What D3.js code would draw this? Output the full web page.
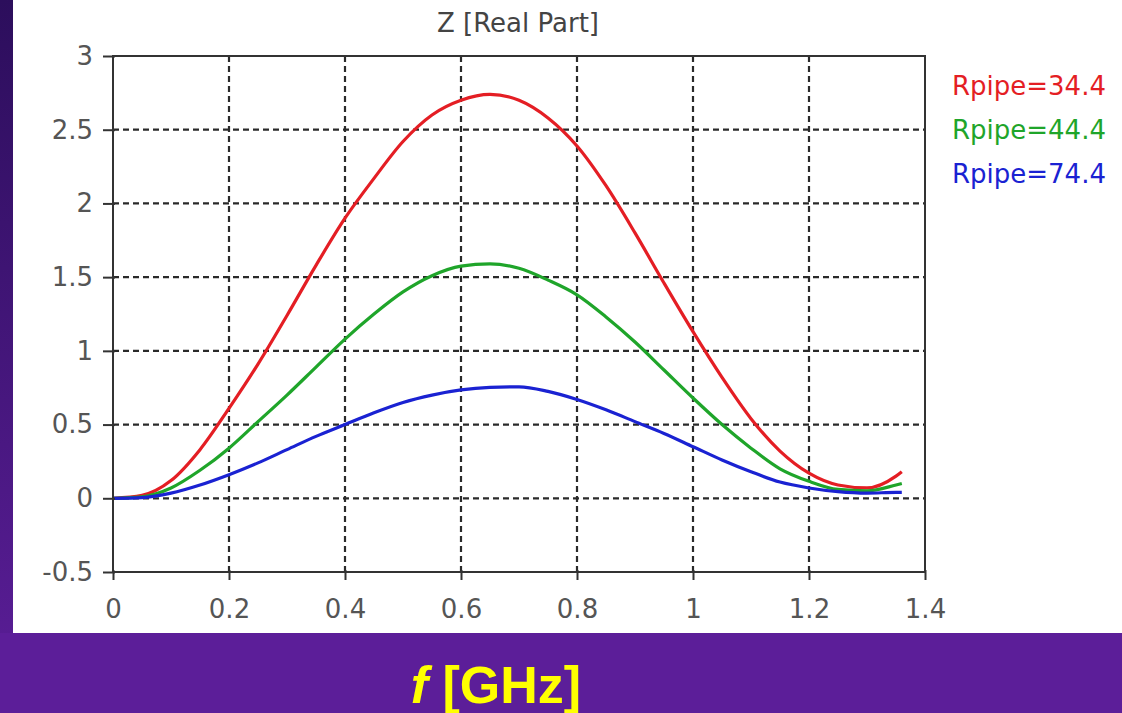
<!DOCTYPE html>
<html>
<head>
<meta charset="utf-8">
<script src="https://cdn.jsdelivr.net/npm/d3@7"></script>
<style>
  body { margin: 0; background: #fff; }
  svg { display: block; }
</style>
</head>
<body>
<svg id="chart" width="1122" height="713"></svg>
<script>
// frequency samples (GHz)
var freq = [0, 0.05, 0.1, 0.15, 0.2, 0.25, 0.3, 0.35, 0.4, 0.45, 0.5, 0.55, 0.6, 0.65, 0.7,
  0.75, 0.8, 0.85, 0.9, 0.95, 1.0, 1.05, 1.1, 1.15, 1.2, 1.25, 1.3, 1.35, 1.36];

var zRed = [0, 0.02, 0.12, 0.33, 0.61, 0.91, 1.24, 1.58, 1.9, 2.17, 2.42, 2.6, 2.7, 2.74, 2.7,
  2.58, 2.39, 2.12, 1.8, 1.46, 1.13, 0.82, 0.54, 0.32, 0.17, 0.09, 0.07, 0.15, 0.18];
var zGreen = [0, 0.01, 0.07, 0.19, 0.34, 0.52, 0.7, 0.89, 1.08, 1.25, 1.4, 1.51, 1.575, 1.59, 1.56,
  1.48, 1.38, 1.23, 1.06, 0.87, 0.68, 0.5, 0.34, 0.2, 0.115, 0.06, 0.05, 0.09, 0.1];
var zBlue = [0, 0.005, 0.035, 0.09, 0.16, 0.24, 0.33, 0.42, 0.5, 0.58, 0.65, 0.7, 0.735, 0.752, 0.756,
  0.725, 0.67, 0.6, 0.52, 0.44, 0.35, 0.26, 0.18, 0.11, 0.07, 0.045, 0.035, 0.04, 0.04];

var seriesNames = ["Rpipe=34.4", "Rpipe=44.4", "Rpipe=74.4"];
var seriesColors = ["#e41e24", "#1fa52a", "#1a22d2"];
var xTicks = [0, 0.2, 0.4, 0.6, 0.8, 1, 1.2, 1.4];
var yTicks = [-0.5, 0, 0.5, 1, 1.5, 2, 2.5, 3];

var svg = d3.select("#chart");

// purple slide background
var defs = svg.append("defs");
var grad = defs.append("linearGradient").attr("id", "side").attr("x1", 0).attr("y1", 0).attr("x2", 0).attr("y2", 1);
grad.append("stop").attr("offset", "0%").attr("stop-color", "#2c0e5c");
grad.append("stop").attr("offset", "100%").attr("stop-color", "#5c1e99");

svg.append("rect").attr("x", 0).attr("y", 0).attr("width", 13).attr("height", 713).attr("fill", "url(#side)");
svg.append("rect").attr("x", 0).attr("y", 633).attr("width", 1122).attr("height", 80).attr("fill", "#5c1e99");

var x = d3.scaleLinear().domain([0, 1.4]).range([113, 925]);
var y = d3.scaleLinear().domain([-0.5, 3]).range([572, 56]);

var g = svg.append("g");

// grid
g.selectAll(".vgrid")
  .data(xTicks.filter(function (d) { return d > 0 && d < 1.4 }))
  .enter().append("line")
  .attr("x1", function (d) { return x(d) }).attr("x2", function (d) { return x(d) })
  .attr("y1", y(3)).attr("y2", y(-0.5))
  .attr("stroke", "#2a2a2a").attr("stroke-width", 2.2).attr("stroke-dasharray", "6,4");

g.selectAll(".hgrid")
  .data(yTicks.filter(function (d) { return d > -0.5 && d < 3 }))
  .enter().append("line")
  .attr("x1", x(0)).attr("x2", x(1.4))
  .attr("y1", function (d) { return y(d) }).attr("y2", function (d) { return y(d) })
  .attr("stroke", "#2a2a2a").attr("stroke-width", 2.2).attr("stroke-dasharray", "6,4");

// curves
var allSeries = [zRed, zGreen, zBlue];
var line = d3.line()
  .x(function (d, i) { return x(freq[i]) })
  .y(function (d) { return y(d) })
  .curve(d3.curveMonotoneX);

g.selectAll(".curve")
  .data(allSeries)
  .enter().append("path")
  .attr("d", line)
  .attr("fill", "none")
  .attr("stroke", function (d, i) { return seriesColors[i] })
  .attr("stroke-width", 3.2)
  .attr("stroke-linejoin", "round");

// frame
g.append("rect")
  .attr("x", x(0)).attr("y", y(3))
  .attr("width", x(1.4) - x(0)).attr("height", y(-0.5) - y(3))
  .attr("fill", "none").attr("stroke", "#333").attr("stroke-width", 2);

// axes
var fmt = function (d) { return String(d) };
var xAxis = d3.axisBottom(x).tickValues(xTicks).tickSize(8).tickPadding(20).tickFormat(fmt);
var yAxis = d3.axisLeft(y).tickValues(yTicks).tickSize(10).tickPadding(10).tickFormat(fmt);

var ax = svg.append("g").attr("transform", "translate(0," + y(-0.5) + ")").call(xAxis);
var ay = svg.append("g").attr("transform", "translate(" + x(0) + ",0)").call(yAxis);

ax.selectAll(".tick line").attr("y1", -2);
ay.selectAll(".tick line").attr("x1", 2);

[ax, ay].forEach(function (a) {
  a.select(".domain").remove();
  a.selectAll(".tick line").attr("stroke", "#333").attr("stroke-width", 2);
  a.selectAll(".tick text")
    .attr("fill", "#555")
    .style("font-family", "DejaVu Sans")
    .style("font-size", "26px");
});

// title
svg.append("text")
  .attr("x", 518).attr("y", 32)
  .attr("text-anchor", "middle")
  .attr("fill", "#444")
  .style("font-family", "DejaVu Sans")
  .style("font-size", "26px")
  .text("Z [Real Part]");

// legend
svg.selectAll(".legend")
  .data(seriesNames)
  .enter().append("text")
  .attr("x", 952)
  .attr("y", function (d, i) { return 95 + i * 44 })
  .attr("fill", function (d, i) { return seriesColors[i] })
  .style("font-family", "DejaVu Sans")
  .style("font-size", "26px")
  .text(function (d) { return d });

// x label in the slide band
var lab = svg.append("text")
  .attr("x", 496).attr("y", 703)
  .attr("text-anchor", "middle")
  .attr("fill", "#ffff00")
  .style("font-family", "Liberation Sans")
  .style("font-weight", "bold")
  .style("font-size", "52px");
lab.append("tspan").style("font-style", "italic").text("f");
lab.append("tspan").text(" [GHz]");
</script>
</body>
</html>
